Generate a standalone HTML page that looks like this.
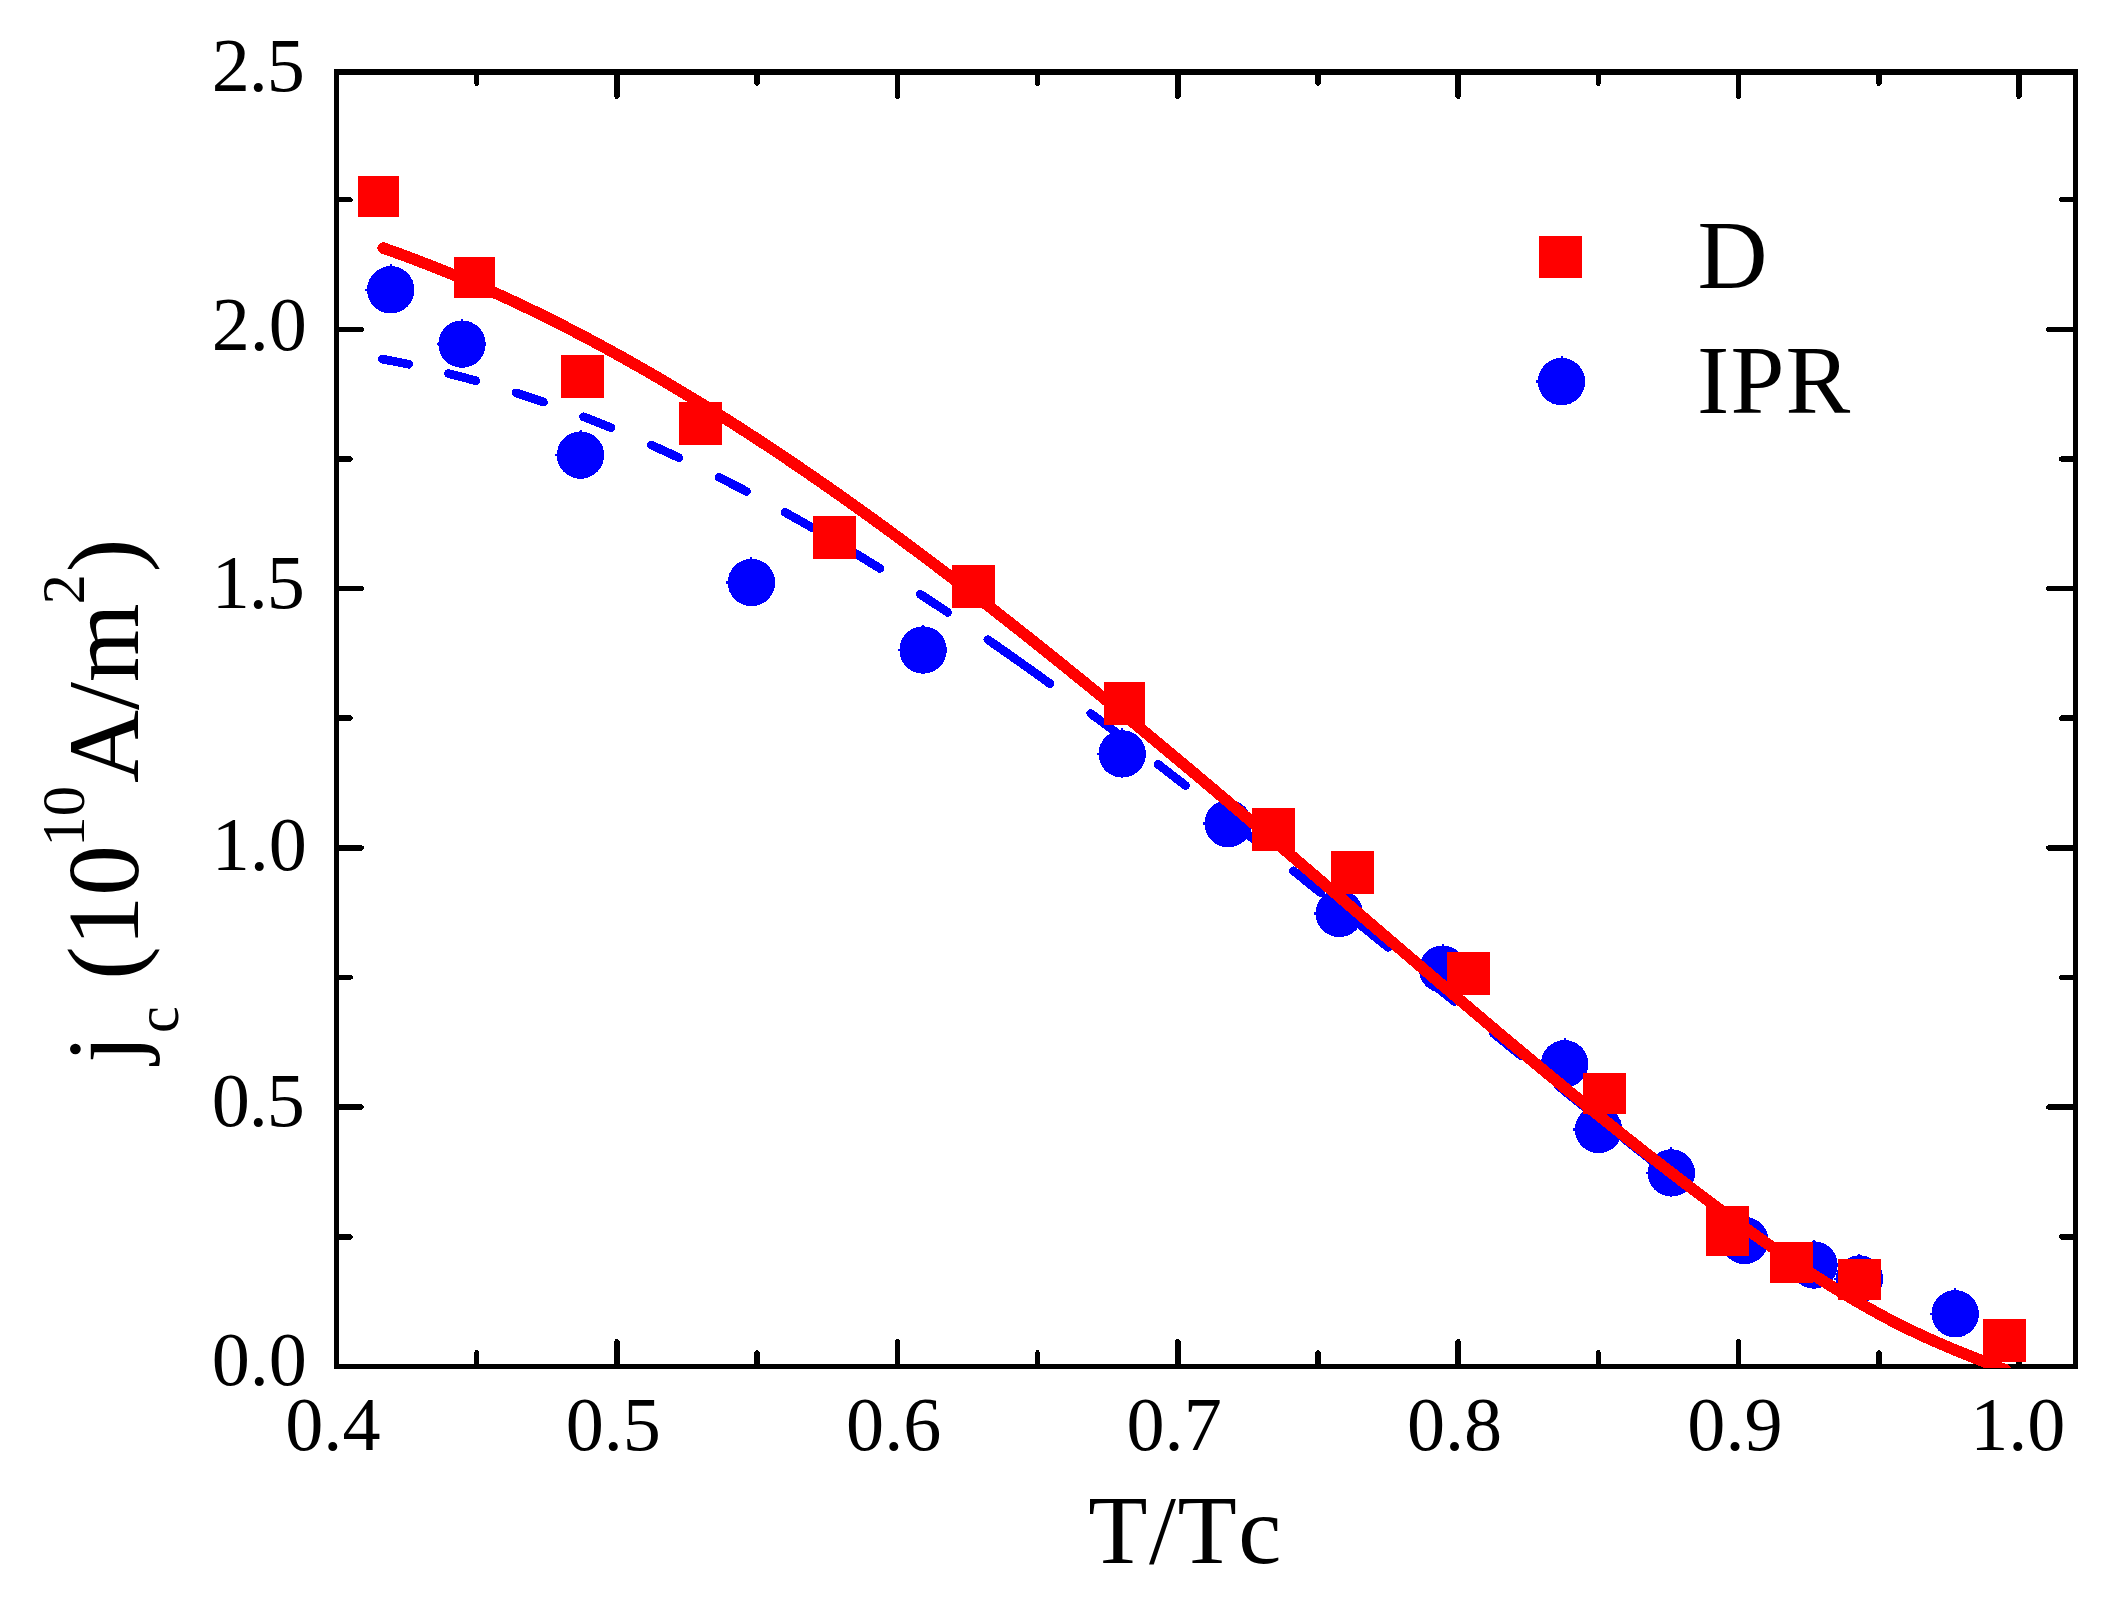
<!DOCTYPE html>
<html lang="en"><head><meta charset="utf-8"><title>jc vs T/Tc</title>
<style>html,body{margin:0;padding:0;background:#fff;}body{width:2126px;height:1598px;overflow:hidden;}svg{display:block;}text{font-family:"Liberation Serif","Times New Roman",Times,serif;fill:#000;font-kerning:none;font-variant-ligatures:none;}</style></head><body>
<svg width="2126" height="1598" viewBox="0 0 2126 1598">
<rect x="0" y="0" width="2126" height="1598" fill="#fff"/>
<g id="axes" fill="#000" shape-rendering="crispEdges">
<rect x="336.4" y="71.9" width="1739" height="1294.4" fill="none" stroke="#000" stroke-width="5.4"/>
<polygon points="473.87,1366.3 479.47,1366.3 479.47,1352.5 477.67,1350.3 475.67,1350.3 473.87,1352.5"/>
<polygon points="473.87,71.9 479.47,71.9 479.47,83.7 477.67,85.9 475.67,85.9 473.87,83.7"/>
<polygon points="614.08,1366.3 619.68,1366.3 619.68,1341.2 617.88,1339 615.88,1339 614.08,1341.2"/>
<polygon points="614.08,71.9 619.68,71.9 619.68,96.9 617.88,99.1 615.88,99.1 614.08,96.9"/>
<polygon points="754.29,1366.3 759.89,1366.3 759.89,1352.5 758.09,1350.3 756.09,1350.3 754.29,1352.5"/>
<polygon points="754.29,71.9 759.89,71.9 759.89,83.7 758.09,85.9 756.09,85.9 754.29,83.7"/>
<polygon points="894.5,1366.3 900.1,1366.3 900.1,1341.2 898.3,1339 896.3,1339 894.5,1341.2"/>
<polygon points="894.5,71.9 900.1,71.9 900.1,96.9 898.3,99.1 896.3,99.1 894.5,96.9"/>
<polygon points="1034.71,1366.3 1040.31,1366.3 1040.31,1352.5 1038.51,1350.3 1036.51,1350.3 1034.71,1352.5"/>
<polygon points="1034.71,71.9 1040.31,71.9 1040.31,83.7 1038.51,85.9 1036.51,85.9 1034.71,83.7"/>
<polygon points="1174.92,1366.3 1180.52,1366.3 1180.52,1341.2 1178.72,1339 1176.72,1339 1174.92,1341.2"/>
<polygon points="1174.92,71.9 1180.52,71.9 1180.52,96.9 1178.72,99.1 1176.72,99.1 1174.92,96.9"/>
<polygon points="1315.13,1366.3 1320.73,1366.3 1320.73,1352.5 1318.93,1350.3 1316.93,1350.3 1315.13,1352.5"/>
<polygon points="1315.13,71.9 1320.73,71.9 1320.73,83.7 1318.93,85.9 1316.93,85.9 1315.13,83.7"/>
<polygon points="1455.34,1366.3 1460.94,1366.3 1460.94,1341.2 1459.14,1339 1457.14,1339 1455.34,1341.2"/>
<polygon points="1455.34,71.9 1460.94,71.9 1460.94,96.9 1459.14,99.1 1457.14,99.1 1455.34,96.9"/>
<polygon points="1595.55,1366.3 1601.15,1366.3 1601.15,1352.5 1599.35,1350.3 1597.35,1350.3 1595.55,1352.5"/>
<polygon points="1595.55,71.9 1601.15,71.9 1601.15,83.7 1599.35,85.9 1597.35,85.9 1595.55,83.7"/>
<polygon points="1735.76,1366.3 1741.36,1366.3 1741.36,1341.2 1739.56,1339 1737.56,1339 1735.76,1341.2"/>
<polygon points="1735.76,71.9 1741.36,71.9 1741.36,96.9 1739.56,99.1 1737.56,99.1 1735.76,96.9"/>
<polygon points="1875.97,1366.3 1881.57,1366.3 1881.57,1352.5 1879.77,1350.3 1877.77,1350.3 1875.97,1352.5"/>
<polygon points="1875.97,71.9 1881.57,71.9 1881.57,83.7 1879.77,85.9 1877.77,85.9 1875.97,83.7"/>
<polygon points="2016.18,1366.3 2021.78,1366.3 2021.78,1341.2 2019.98,1339 2017.98,1339 2016.18,1341.2"/>
<polygon points="2016.18,71.9 2021.78,71.9 2021.78,96.9 2019.98,99.1 2017.98,99.1 2016.18,96.9"/>
<polygon points="336.4,1233.92 336.4,1239.52 350.5,1239.52 352.7,1237.72 352.7,1235.72 350.5,1233.92"/>
<polygon points="2075.4,1233.92 2075.4,1239.52 2061,1239.52 2058.8,1237.72 2058.8,1235.72 2061,1233.92"/>
<polygon points="336.4,1104.29 336.4,1109.89 361.8,1109.89 364,1108.09 364,1106.09 361.8,1104.29"/>
<polygon points="2075.4,1104.29 2075.4,1109.89 2048.1,1109.89 2045.9,1108.09 2045.9,1106.09 2048.1,1104.29"/>
<polygon points="336.4,974.66 336.4,980.26 350.5,980.26 352.7,978.46 352.7,976.46 350.5,974.66"/>
<polygon points="2075.4,974.66 2075.4,980.26 2061,980.26 2058.8,978.46 2058.8,976.46 2061,974.66"/>
<polygon points="336.4,845.03 336.4,850.63 361.8,850.63 364,848.83 364,846.83 361.8,845.03"/>
<polygon points="2075.4,845.03 2075.4,850.63 2048.1,850.63 2045.9,848.83 2045.9,846.83 2048.1,845.03"/>
<polygon points="336.4,715.4 336.4,721 350.5,721 352.7,719.2 352.7,717.2 350.5,715.4"/>
<polygon points="2075.4,715.4 2075.4,721 2061,721 2058.8,719.2 2058.8,717.2 2061,715.4"/>
<polygon points="336.4,585.77 336.4,591.37 361.8,591.37 364,589.57 364,587.57 361.8,585.77"/>
<polygon points="2075.4,585.77 2075.4,591.37 2048.1,591.37 2045.9,589.57 2045.9,587.57 2048.1,585.77"/>
<polygon points="336.4,456.14 336.4,461.74 350.5,461.74 352.7,459.94 352.7,457.94 350.5,456.14"/>
<polygon points="2075.4,456.14 2075.4,461.74 2061,461.74 2058.8,459.94 2058.8,457.94 2061,456.14"/>
<polygon points="336.4,326.51 336.4,332.11 361.8,332.11 364,330.31 364,328.31 361.8,326.51"/>
<polygon points="2075.4,326.51 2075.4,332.11 2048.1,332.11 2045.9,330.31 2045.9,328.31 2048.1,326.51"/>
<polygon points="336.4,196.88 336.4,202.48 350.5,202.48 352.7,200.68 352.7,198.68 350.5,196.88"/>
<polygon points="2075.4,196.88 2075.4,202.48 2061,202.48 2058.8,200.68 2058.8,198.68 2061,196.88"/>
</g>
<defs><clipPath id="plotclip"><rect x="333.7" y="69.2" width="1744.4" height="1298.7"/></clipPath></defs>
<g id="ipr" fill="#00f" shape-rendering="crispEdges">
<circle cx="390.75" cy="289.8" r="23.7"/>
<rect x="365.25" y="288.6" width="3" height="2.4"/><rect x="389.75" y="264.3" width="2" height="3"/>
<circle cx="462" cy="344.1" r="23.7"/>
<rect x="436.5" y="342.9" width="3" height="2.4"/><rect x="461" y="318.6" width="2" height="3"/>
<circle cx="580.5" cy="455.1" r="23.7"/>
<rect x="555" y="453.9" width="3" height="2.4"/><rect x="579.5" y="429.6" width="2" height="3"/>
<circle cx="751.4" cy="582.5" r="23.7"/>
<rect x="725.9" y="581.3" width="3" height="2.4"/><rect x="750.4" y="557" width="2" height="3"/>
<circle cx="923.1" cy="650" r="23.7"/>
<rect x="897.6" y="648.8" width="3" height="2.4"/><rect x="922.1" y="624.5" width="2" height="3"/>
<circle cx="1122.2" cy="753.9" r="23.7"/>
<rect x="1096.7" y="752.7" width="3" height="2.4"/><rect x="1121.2" y="728.4" width="2" height="3"/>
<circle cx="1228.2" cy="823.6" r="23.7"/>
<rect x="1202.7" y="822.4" width="3" height="2.4"/><rect x="1227.2" y="798.1" width="2" height="3"/>
<circle cx="1339.3" cy="913.4" r="23.7"/>
<rect x="1313.8" y="912.2" width="3" height="2.4"/><rect x="1338.3" y="887.9" width="2" height="3"/>
<circle cx="1442.6" cy="969.2" r="23.7"/>
<rect x="1417.1" y="968" width="3" height="2.4"/><rect x="1441.6" y="943.7" width="2" height="3"/>
<circle cx="1564.6" cy="1063.8" r="23.7"/>
<rect x="1539.1" y="1062.6" width="3" height="2.4"/><rect x="1563.6" y="1038.3" width="2" height="3"/>
<circle cx="1598.6" cy="1129.5" r="23.7"/>
<rect x="1573.1" y="1128.3" width="3" height="2.4"/><rect x="1597.6" y="1104" width="2" height="3"/>
<circle cx="1671.3" cy="1172.9" r="23.7"/>
<rect x="1645.8" y="1171.7" width="3" height="2.4"/><rect x="1670.3" y="1147.4" width="2" height="3"/>
<circle cx="1744.7" cy="1240.5" r="23.7"/>
<rect x="1719.2" y="1239.3" width="3" height="2.4"/><rect x="1743.7" y="1215" width="2" height="3"/>
<circle cx="1814" cy="1265" r="23.7"/>
<rect x="1788.5" y="1263.8" width="3" height="2.4"/><rect x="1813" y="1239.5" width="2" height="3"/>
<circle cx="1859.4" cy="1279" r="23.7"/>
<rect x="1833.9" y="1277.8" width="3" height="2.4"/><rect x="1858.4" y="1253.5" width="2" height="3"/>
<circle cx="1955.2" cy="1313.8" r="23.7"/>
<rect x="1929.7" y="1312.6" width="3" height="2.4"/><rect x="1954.2" y="1288.3" width="2" height="3"/>
</g>
<g id="iprfit" fill="none" stroke="#00f" stroke-width="8.7" stroke-linecap="round" shape-rendering="crispEdges">
<path d="M382.45,359.15 L387.69,360.12 L392.93,361.11 L398.17,362.14 L403.41,363.2 L408.65,364.29"/>
<path d="M448.45,373.5 L453.93,374.9 L459.41,376.33 L464.89,377.79 L470.37,379.28 L475.85,380.81"/>
<path d="M516.05,392.91 L521.53,394.68 L527.01,396.49 L532.49,398.32 L537.97,400.19 L543.45,402.08"/>
<path d="M583.55,416.8 L589.03,418.92 L594.51,421.08 L599.99,423.27 L605.47,425.48 L610.95,427.72"/>
<path d="M651.35,445.06 L656.83,447.52 L662.31,450.01 L667.79,452.53 L673.27,455.07 L678.75,457.64"/>
<path d="M719.05,477.3 L724.53,480.08 L730.01,482.88 L735.49,485.71 L740.97,488.56 L746.45,491.43"/>
<path d="M785.05,512.35 L790.53,515.41 L796.01,518.5 L801.49,521.6 L806.97,524.73 L812.45,527.89"/>
<path d="M852.55,551.63 L858.03,554.97 L863.51,558.32 L868.99,561.7 L874.47,565.1 L879.95,568.51"/>
<path d="M920.25,594.26 L925.73,597.84 L931.21,601.44 L936.69,605.06 L942.17,608.7 L947.65,612.35"/>
<path d="M987.75,639.63 L994.1,644.03 L1000.45,648.45 L1006.8,652.9 L1013.15,657.36 L1019.5,661.85"/>
<path d="M1018.5,661.14 L1024.79,665.61 L1031.08,670.09 L1037.37,674.59 L1043.66,679.11 L1049.95,683.65"/>
<path d="M1090.75,713.53 L1096.23,717.6 L1101.71,721.69 L1107.19,725.78 L1112.67,729.89 L1118.15,734.01"/>
<path d="M1158.15,764.41 L1163.63,768.62 L1169.11,772.84 L1174.59,777.07 L1180.07,781.31 L1185.55,785.56"/>
<path d="M1225.75,816.99 L1231.23,821.31 L1236.71,825.64 L1242.19,829.98 L1247.67,834.32 L1253.15,838.67"/>
<path d="M1293.35,870.77 L1298.83,875.17 L1304.31,879.57 L1309.79,883.98 L1315.27,888.4 L1320.75,892.82"/>
<path d="M1360.55,925.04 L1366.03,929.49 L1371.51,933.94 L1376.99,938.39 L1382.47,942.85 L1387.95,947.31"/>
<path d="M1427.05,979.18 L1432.53,983.65 L1438.01,988.12 L1443.49,992.59 L1448.97,997.06 L1454.45,1001.53"/>
<path d="M1493.25,1033.15 L1498.73,1037.61 L1504.21,1042.07 L1509.69,1046.53 L1515.17,1050.98 L1520.65,1055.43"/>
<path d="M1558.55,1086.13 L1564.03,1090.55 L1569.51,1094.97 L1574.99,1099.39 L1580.47,1103.8 L1585.95,1108.2"/>
<path d="M1624.05,1138.67 L1629.53,1143.03 L1635.01,1147.38 L1640.49,1151.72 L1645.97,1156.06 L1651.45,1160.39"/>
</g>
<path id="dfit" shape-rendering="crispEdges" clip-path="url(#plotclip)" d="M383.15,248.05 L394.83,252.18 L406.5,256.44 L418.18,260.84 L429.85,265.36 L441.53,270.01 L453.2,274.79 L464.88,279.69 L476.55,284.71 L488.23,289.86 L499.9,295.13 L511.58,300.51 L523.25,306.02 L534.93,311.64 L546.6,317.38 L558.28,323.23 L569.95,329.19 L581.63,335.27 L593.3,341.45 L604.98,347.75 L616.65,354.15 L628.33,360.66 L640,367.27 L651.68,373.98 L663.35,380.8 L675.03,387.72 L686.7,394.74 L698.38,401.85 L710.06,409.06 L721.73,416.37 L733.41,423.77 L745.08,431.26 L756.76,438.85 L768.43,446.52 L780.11,454.28 L791.78,462.13 L803.46,470.07 L815.13,478.09 L826.81,486.19 L838.48,494.38 L850.16,502.64 L861.83,510.98 L873.51,519.4 L885.18,527.89 L896.86,536.45 L908.53,545.09 L920.21,553.79 L931.88,562.55 L943.56,571.39 L955.23,580.28 L966.91,589.24 L978.58,598.25 L990.26,607.33 L1001.93,616.46 L1013.61,625.64 L1025.28,634.87 L1036.96,644.16 L1048.64,653.49 L1060.31,662.87 L1071.99,672.29 L1083.66,681.76 L1095.34,691.27 L1107.01,700.82 L1118.69,710.4 L1130.36,720.02 L1142.04,729.68 L1153.71,739.37 L1165.39,749.09 L1177.06,758.85 L1188.74,768.63 L1200.41,778.44 L1212.09,788.27 L1223.76,798.14 L1235.44,808.02 L1247.11,817.93 L1258.79,827.85 L1270.46,837.8 L1282.14,847.76 L1293.81,857.74 L1305.49,867.74 L1317.16,877.74 L1328.84,887.76 L1340.51,897.78 L1352.19,907.81 L1363.87,917.84 L1375.54,927.87 L1387.22,937.89 L1398.89,947.91 L1410.57,957.92 L1422.24,967.91 L1433.92,977.89 L1445.59,987.85 L1457.27,997.79 L1468.94,1007.7 L1480.62,1017.59 L1492.29,1027.45 L1503.97,1037.27 L1515.64,1047.06 L1527.32,1056.81 L1538.99,1066.52 L1550.67,1076.18 L1562.34,1085.8 L1574.02,1095.37 L1585.69,1104.88 L1597.37,1114.34 L1609.04,1123.74 L1620.72,1133.07 L1632.39,1142.35 L1644.07,1151.55 L1655.74,1160.69 L1667.42,1169.75 L1679.09,1178.74 L1690.77,1187.65 L1702.45,1196.47 L1714.12,1205.21 L1725.8,1213.87 L1737.47,1222.42 L1749.15,1230.86 L1760.82,1239.17 L1772.5,1247.35 L1784.17,1255.39 L1795.85,1263.27 L1807.52,1270.99 L1819.2,1278.53 L1830.87,1285.88 L1842.55,1293.03 L1854.22,1299.97 L1865.9,1306.69 L1877.57,1313.17 L1889.25,1319.42 L1900.92,1325.4 L1912.6,1331.13 L1924.27,1336.6 L1935.95,1341.83 L1947.62,1346.87 L1959.3,1351.73 L1970.97,1356.45 L1982.65,1361.05 L1994.32,1365.56 L2006,1370.02" fill="none" stroke="#f00" stroke-width="11.5" stroke-linecap="round" stroke-linejoin="round"/>
<g id="d" fill="#f00" shape-rendering="crispEdges">
<rect x="358.2" y="176.3" width="41" height="41"/>
<rect x="453.9" y="257.2" width="41" height="41"/>
<rect x="561" y="355" width="43" height="43"/>
<rect x="679.2" y="401.8" width="43" height="43"/>
<rect x="812.5" y="516.3" width="43" height="43"/>
<rect x="951.6" y="565.3" width="43" height="43"/>
<rect x="1103.7" y="681.6" width="41" height="43"/>
<rect x="1251.9" y="807.6" width="43" height="43"/>
<rect x="1330.9" y="850.9" width="43" height="43"/>
<rect x="1447.2" y="952.4" width="43" height="43"/>
<rect x="1582.5" y="1072.5" width="43" height="41"/>
<rect x="1706.4" y="1206" width="43" height="50.4"/>
<rect x="1770.1" y="1241.6" width="43" height="41"/>
<rect x="1838" y="1258.5" width="43" height="41"/>
<rect x="1982.5" y="1318.7" width="43" height="43"/>
</g>
<g id="legend">
<rect x="1539.1" y="236.1" width="43.3" height="41.4" fill="#f00" shape-rendering="crispEdges"/>
<g fill="#00f" shape-rendering="crispEdges"><circle cx="1561.5" cy="381.6" r="23.7"/><rect x="1536" y="380.4" width="3" height="2.4"/><rect x="1560.5" y="356.1" width="2" height="3"/></g>
<text x="1697.6" y="288.4" font-size="97">D</text>
<text x="1696.9" y="412.6" font-size="97" letter-spacing="1.2">IPR</text>
</g>
<g id="xticklabels" font-size="76.2">
<text x="285.26" y="1449.6">0.4</text>
<text x="565.68" y="1449.6">0.5</text>
<text x="846.1" y="1449.6">0.6</text>
<text x="1126.52" y="1449.6">0.7</text>
<text x="1406.94" y="1449.6">0.8</text>
<text x="1687.36" y="1449.6">0.9</text>
<text x="1970.2" y="1449.6">1.0</text>
</g>
<g id="yticklabels" font-size="76.2">
<text x="211.65" y="1384.9">0.0</text>
<text x="211.85" y="1126.2" letter-spacing="-1.1">0.5</text>
<text x="211.65" y="869.5">1.0</text>
<text x="211.85" y="607.6" letter-spacing="-1.1">1.5</text>
<text x="211.65" y="350.2">2.0</text>
<text x="211.85" y="91.2" letter-spacing="-1.1">2.5</text>
</g>
<text id="xtitle" x="1088.2" y="1562.8" font-size="97" letter-spacing="1.5">T/Tc</text>
<text id="ytitle" transform="translate(138,1063) rotate(-90)" font-size="101">j<tspan font-size="60.6" dx="2" dy="39.7">c</tspan><tspan dx="1" dy="-39.7"> (10</tspan><tspan font-size="60.6" dx="-1.5" dy="-53.6">10</tspan><tspan dx="3" dy="53.6">A/m</tspan><tspan font-size="60.6" dx="-1" dy="-53.6">2</tspan><tspan dx="2" dy="53.6">)</tspan></text>
</svg></body></html>
